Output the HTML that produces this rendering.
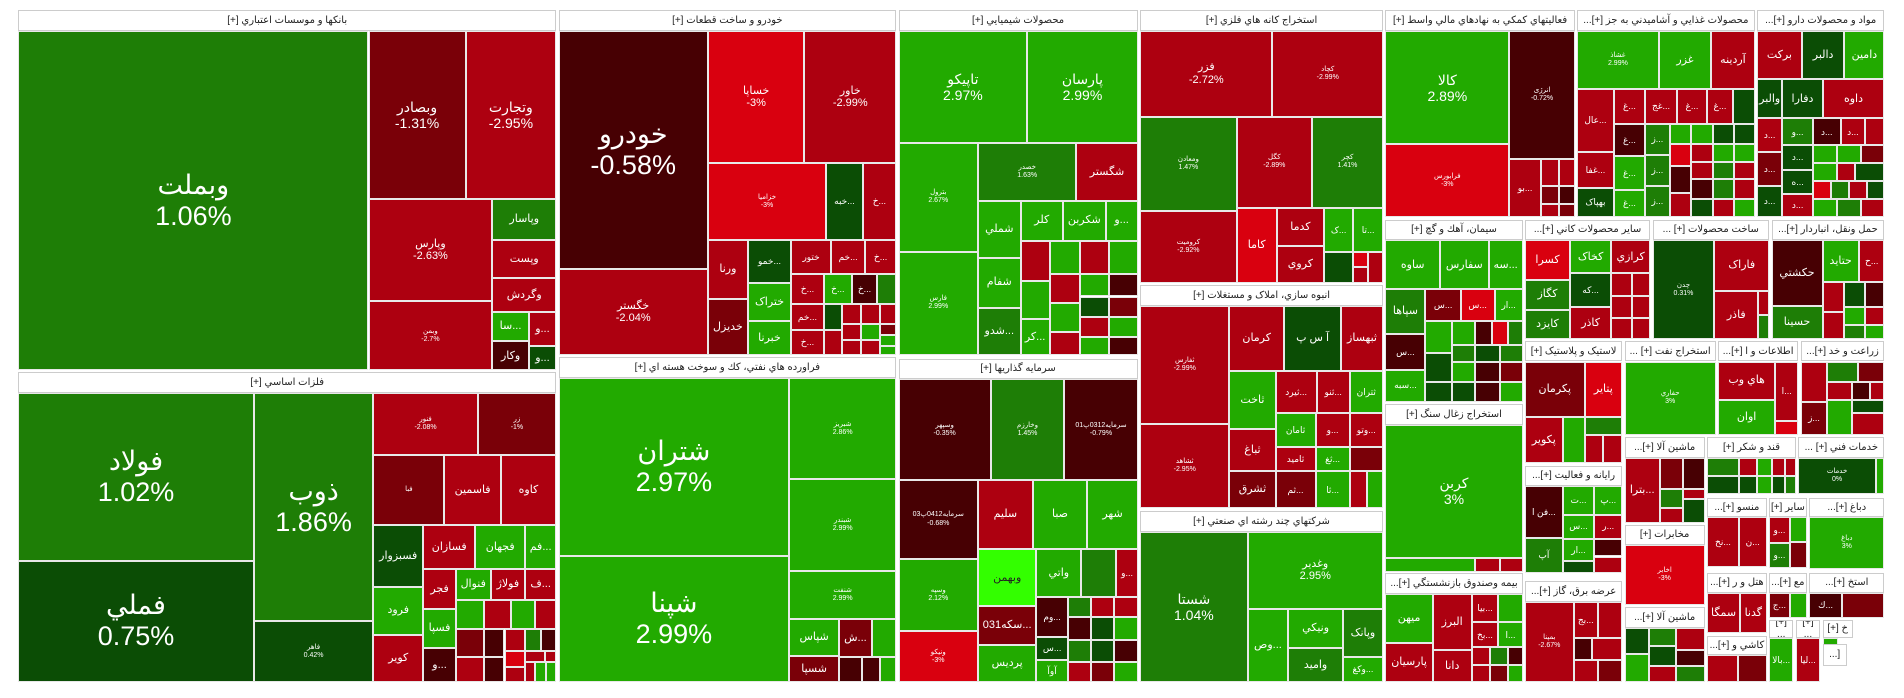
<!DOCTYPE html>
<html><head><meta charset="utf-8">
<style>
html,body{margin:0;padding:0;background:#fff;width:1904px;height:698px;overflow:hidden}
#w{position:relative;width:1904px;height:698px;font-family:"Liberation Sans","DejaVu Sans",sans-serif}
.b{position:absolute;box-sizing:border-box;border:1px solid #e8e8e8;display:flex;align-items:center;justify-content:center;text-align:center;color:#fff;overflow:hidden;line-height:1.15;
left:calc(var(--x)*0.6071px);top:calc(var(--y)*0.4452px);width:calc(var(--w)*0.6071px);height:calc(var(--h)*0.4452px);font-size:9px;direction:ltr}
.h{background:#fff;color:#222;font-size:10px;border:1px solid #ccc;direction:rtl}
.G{background:#1e7e06}.B{background:#22aa00}.D{background:#0b4d05}.M{background:#470003}.R{background:#ad0010}.K{background:#7a0008}.E{background:#d9000f}.N{background:#33ff00}
.f1{font-size:27px}.f2{font-size:14px}.f3{font-size:11px}.f4{font-size:7px}
</style></head><body><div id="w">
<!-- Banks -->
<div class="b h" style="--x:30;--y:22;--w:886;--h:48">بانکها و موسسات اعتباري [+]</div>
<div class="b G f1" style="--x:30;--y:70;--w:577;--h:762">وبملت<br>1.06%</div>
<div class="b K f2" style="--x:607;--y:70;--w:160;--h:377">وبصادر<br>-1.31%</div>
<div class="b R f2" style="--x:767;--y:70;--w:149;--h:377">وتجارت<br>-2.95%</div>
<div class="b R f3" style="--x:607;--y:447;--w:204;--h:230">وپارس<br>-2.63%</div>
<div class="b R f4" style="--x:607;--y:677;--w:204;--h:155">وبمن<br>-2.7%</div>
<div class="b G f3" style="--x:811;--y:447;--w:105;--h:92">وپاسار</div>
<div class="b R f3" style="--x:811;--y:539;--w:105;--h:86">وپست</div>
<div class="b R f3" style="--x:811;--y:625;--w:105;--h:76">وگردش</div>
<div class="b B f3" style="--x:811;--y:701;--w:60;--h:66">سا...</div>
<div class="b R f3" style="--x:871;--y:701;--w:45;--h:76">و...</div>
<div class="b M f3" style="--x:811;--y:767;--w:60;--h:65">وکار</div>
<div class="b D f3" style="--x:871;--y:777;--w:45;--h:55">و...</div>
<!-- Khodro -->
<div class="b h" style="--x:920;--y:22;--w:556;--h:48">خودرو و ساخت قطعات [+]</div>
<div class="b M f1" style="--x:920;--y:70;--w:246;--h:535">خودرو<br>-0.58%</div>
<div class="b R f3" style="--x:920;--y:605;--w:246;--h:193">خگستر<br>-2.04%</div>
<div class="b E f3" style="--x:1166;--y:70;--w:159;--h:297">خساپا<br>-3%</div>
<div class="b R f3" style="--x:1325;--y:70;--w:151;--h:297">خاور<br>-2.99%</div>
<div class="b E f4" style="--x:1166;--y:367;--w:195;--h:172">خزامیا<br>-3%</div>
<div class="b D" style="--x:1361;--y:367;--w:60;--h:172">خبه...</div>
<div class="b R" style="--x:1421;--y:367;--w:55;--h:172">خ...</div>
<div class="b R f3" style="--x:1166;--y:539;--w:66;--h:132">ورنا</div>
<div class="b K f3" style="--x:1166;--y:671;--w:66;--h:127">خدیزل</div>
<div class="b D" style="--x:1232;--y:539;--w:71;--h:96">خمو...</div>
<div class="b B f3" style="--x:1232;--y:635;--w:71;--h:86">ختراک</div>
<div class="b B f3" style="--x:1232;--y:721;--w:71;--h:77">خبرنا</div>
<div class="b R" style="--x:1303;--y:539;--w:66;--h:76">ختور</div>
<div class="b R" style="--x:1369;--y:539;--w:56;--h:76">خم...</div>
<div class="b R" style="--x:1425;--y:539;--w:51;--h:76">خ...</div>
<div class="b R" style="--x:1303;--y:615;--w:54;--h:68">خ...</div>
<div class="b B" style="--x:1357;--y:615;--w:46;--h:68">خ...</div>
<div class="b M" style="--x:1403;--y:615;--w:42;--h:68">خ...</div>
<div class="b G" style="--x:1445;--y:615;--w:31;--h:68"></div>
<div class="b R" style="--x:1303;--y:683;--w:54;--h:58">خم...</div>
<div class="b D" style="--x:1357;--y:683;--w:30;--h:58"></div>
<div class="b R" style="--x:1387;--y:683;--w:32;--h:45"></div>
<div class="b R" style="--x:1419;--y:683;--w:30;--h:45"></div>
<div class="b R" style="--x:1449;--y:683;--w:27;--h:45"></div>
<div class="b R" style="--x:1303;--y:741;--w:54;--h:57">خ...</div>
<div class="b R" style="--x:1357;--y:741;--w:30;--h:57"></div>
<div class="b R" style="--x:1387;--y:728;--w:32;--h:35"></div>
<div class="b B" style="--x:1419;--y:728;--w:30;--h:35"></div>
<div class="b K" style="--x:1449;--y:728;--w:27;--h:25"></div>
<div class="b R" style="--x:1387;--y:763;--w:32;--h:35"></div>
<div class="b R" style="--x:1419;--y:763;--w:30;--h:35"></div>
<div class="b B" style="--x:1449;--y:753;--w:27;--h:25"></div>
<div class="b B" style="--x:1449;--y:778;--w:27;--h:20"></div>
<!-- Chem -->
<div class="b h" style="--x:1480;--y:22;--w:394;--h:48">محصولات شيميايي [+]</div>
<div class="b B f2" style="--x:1480;--y:70;--w:212;--h:251">تاپيکو<br>2.97%</div>
<div class="b B f2" style="--x:1692;--y:70;--w:182;--h:251">پارسان<br>2.99%</div>
<div class="b B f4" style="--x:1480;--y:321;--w:131;--h:244">بترول<br>2.67%</div>
<div class="b B f4" style="--x:1480;--y:565;--w:131;--h:233">فارس<br>2.99%</div>
<div class="b G f4" style="--x:1611;--y:321;--w:162;--h:130">خصدر<br>1.63%</div>
<div class="b R f3" style="--x:1773;--y:321;--w:101;--h:130">شگستر</div>
<div class="b B f3" style="--x:1611;--y:451;--w:70;--h:128">شملي</div>
<div class="b B f3" style="--x:1681;--y:451;--w:70;--h:90">کلر</div>
<div class="b B f3" style="--x:1751;--y:451;--w:70;--h:90">شکربن</div>
<div class="b B f3" style="--x:1821;--y:451;--w:53;--h:90">و...</div>
<div class="b B f3" style="--x:1611;--y:579;--w:70;--h:112">شفام</div>
<div class="b G f3" style="--x:1611;--y:691;--w:70;--h:107">شدو...</div>
<div class="b R" style="--x:1681;--y:541;--w:48;--h:91"></div>
<div class="b B" style="--x:1729;--y:541;--w:50;--h:75"></div>
<div class="b R" style="--x:1779;--y:541;--w:48;--h:75"></div>
<div class="b B" style="--x:1827;--y:541;--w:47;--h:75"></div>
<div class="b B" style="--x:1681;--y:632;--w:48;--h:85"></div>
<div class="b R" style="--x:1729;--y:616;--w:50;--h:65"></div>
<div class="b B" style="--x:1779;--y:616;--w:48;--h:50"></div>
<div class="b M" style="--x:1827;--y:616;--w:47;--h:50"></div>
<div class="b B f3" style="--x:1681;--y:717;--w:48;--h:81">کر...</div>
<div class="b B" style="--x:1729;--y:681;--w:50;--h:65"></div>
<div class="b D" style="--x:1779;--y:666;--w:48;--h:45"></div>
<div class="b K" style="--x:1827;--y:666;--w:47;--h:45"></div>
<div class="b R" style="--x:1729;--y:746;--w:50;--h:52"></div>
<div class="b R" style="--x:1779;--y:711;--w:48;--h:45"></div>
<div class="b B" style="--x:1827;--y:711;--w:47;--h:45"></div>
<div class="b B" style="--x:1779;--y:756;--w:48;--h:42"></div>
<div class="b M" style="--x:1827;--y:756;--w:47;--h:42"></div>
<!-- Kane -->
<div class="b h" style="--x:1878;--y:22;--w:400;--h:48">استخراج کانه هاي فلزي [+]</div>
<div class="b R f3" style="--x:1878;--y:70;--w:218;--h:193">فزر<br>-2.72%</div>
<div class="b R f4" style="--x:2096;--y:70;--w:182;--h:193">کچاد<br>-2.99%</div>
<div class="b G f4" style="--x:1878;--y:263;--w:159;--h:210">ومعادن<br>1.47%</div>
<div class="b R f4" style="--x:2037;--y:263;--w:124;--h:204">کگل<br>-2.89%</div>
<div class="b G f4" style="--x:2161;--y:263;--w:117;--h:204">کچر<br>1.41%</div>
<div class="b R f4" style="--x:1878;--y:473;--w:159;--h:162">کرومیت<br>-2.92%</div>
<div class="b E f3" style="--x:2037;--y:467;--w:66;--h:168">کاما</div>
<div class="b R f3" style="--x:2103;--y:467;--w:78;--h:86">کدما</div>
<div class="b R f3" style="--x:2103;--y:553;--w:78;--h:82">کروي</div>
<div class="b B" style="--x:2181;--y:467;--w:48;--h:98">ک...</div>
<div class="b B" style="--x:2229;--y:467;--w:49;--h:98">تا...</div>
<div class="b D" style="--x:2181;--y:565;--w:48;--h:70"></div>
<div class="b E" style="--x:2229;--y:565;--w:25;--h:35"></div>
<div class="b R" style="--x:2254;--y:565;--w:24;--h:70"></div>
<div class="b R" style="--x:2229;--y:600;--w:25;--h:35"></div>
<!-- Anbooh -->
<div class="b h" style="--x:1878;--y:640;--w:400;--h:48">انبوه سازي، املاک و مستغلات [+]</div>
<div class="b R f4" style="--x:1878;--y:688;--w:147;--h:264">ثفارس<br>-2.99%</div>
<div class="b R f4" style="--x:1878;--y:952;--w:147;--h:190">ثشاهد<br>-2.95%</div>
<div class="b R f3" style="--x:2025;--y:688;--w:90;--h:146">کرمان</div>
<div class="b D f3" style="--x:2115;--y:688;--w:94;--h:146">آ س پ</div>
<div class="b R f3" style="--x:2209;--y:688;--w:69;--h:146">ثبهساز</div>
<div class="b B f3" style="--x:2025;--y:834;--w:76;--h:130">ثاخت</div>
<div class="b R f3" style="--x:2025;--y:964;--w:76;--h:94">ثباغ</div>
<div class="b K f3" style="--x:2025;--y:1058;--w:76;--h:84">ثشرق</div>
<div class="b R" style="--x:2101;--y:834;--w:68;--h:94">ثيرد...</div>
<div class="b R" style="--x:2169;--y:834;--w:54;--h:94">ثنو...</div>
<div class="b B" style="--x:2223;--y:834;--w:55;--h:94">ثتران</div>
<div class="b B" style="--x:2101;--y:928;--w:66;--h:76">ثامان</div>
<div class="b R" style="--x:2167;--y:928;--w:56;--h:76">و...</div>
<div class="b R" style="--x:2223;--y:928;--w:55;--h:76">وتو...</div>
<div class="b R" style="--x:2101;--y:1004;--w:66;--h:54">ثاميد</div>
<div class="b B" style="--x:2167;--y:1004;--w:56;--h:54">ثغ...</div>
<div class="b K" style="--x:2223;--y:1004;--w:55;--h:54"></div>
<div class="b K" style="--x:2101;--y:1058;--w:66;--h:84">ثم...</div>
<div class="b B" style="--x:2167;--y:1058;--w:56;--h:84">ثا...</div>
<div class="b R" style="--x:2223;--y:1058;--w:28;--h:84"></div>
<div class="b B" style="--x:2251;--y:1058;--w:27;--h:84"></div>
<!-- Chand reshte -->
<div class="b h" style="--x:1878;--y:1148;--w:400;--h:46">شرکتهاي چند رشته اي صنعتي [+]</div>
<div class="b G f2" style="--x:1878;--y:1194;--w:177;--h:338">شستا<br>1.04%</div>
<div class="b B f3" style="--x:2055;--y:1194;--w:223;--h:174">وغدير<br>2.95%</div>
<div class="b B f3" style="--x:2055;--y:1368;--w:67;--h:164">وص...</div>
<div class="b B f3" style="--x:2122;--y:1368;--w:90;--h:88">ونيکي</div>
<div class="b G f3" style="--x:2122;--y:1456;--w:90;--h:76">واميد</div>
<div class="b G f3" style="--x:2212;--y:1368;--w:66;--h:108">وپانک</div>
<div class="b B" style="--x:2212;--y:1476;--w:66;--h:56">وکغ...</div>
<!-- Naft -->
<div class="b h" style="--x:920;--y:802;--w:556;--h:48">فراورده هاي نفتي، کك و سوخت هسته اي [+]</div>
<div class="b B f1" style="--x:920;--y:850;--w:380;--h:398">شتران<br>2.97%</div>
<div class="b B f1" style="--x:920;--y:1248;--w:380;--h:284">شپنا<br>2.99%</div>
<div class="b B f4" style="--x:1300;--y:850;--w:176;--h:226">شبريز<br>2.86%</div>
<div class="b B f4" style="--x:1300;--y:1076;--w:176;--h:206">شبندر<br>2.99%</div>
<div class="b B f4" style="--x:1300;--y:1282;--w:176;--h:108">شنفت<br>2.99%</div>
<div class="b B f3" style="--x:1300;--y:1390;--w:82;--h:84">شپاس</div>
<div class="b K f3" style="--x:1382;--y:1390;--w:54;--h:86">ش...</div>
<div class="b B" style="--x:1436;--y:1390;--w:40;--h:86"></div>
<div class="b K f3" style="--x:1300;--y:1474;--w:82;--h:58">شسپا</div>
<div class="b M" style="--x:1382;--y:1476;--w:38;--h:56"></div>
<div class="b M" style="--x:1420;--y:1476;--w:30;--h:56"></div>
<div class="b B" style="--x:1450;--y:1476;--w:26;--h:56"></div>
<!-- Felezat -->
<div class="b h" style="--x:30;--y:836;--w:886;--h:46">فلزات اساسي [+]</div>
<div class="b G f1" style="--x:30;--y:882;--w:388;--h:378">فولاد<br>1.02%</div>
<div class="b D f1" style="--x:30;--y:1260;--w:388;--h:272">فملي<br>0.75%</div>
<div class="b G f1" style="--x:418;--y:882;--w:197;--h:514">ذوب<br>1.86%</div>
<div class="b D f4" style="--x:418;--y:1396;--w:197;--h:136">فاهر<br>0.42%</div>
<div class="b R f4" style="--x:615;--y:882;--w:172;--h:141">فنور<br>-2.08%</div>
<div class="b K f4" style="--x:787;--y:882;--w:129;--h:141">زر<br>-1%</div>
<div class="b K f4" style="--x:615;--y:1023;--w:117;--h:157">فبا</div>
<div class="b R f3" style="--x:732;--y:1023;--w:93;--h:157">فاسمين</div>
<div class="b R f3" style="--x:825;--y:1023;--w:91;--h:157">کاوه</div>
<div class="b D f3" style="--x:615;--y:1180;--w:82;--h:138">فسبزوار</div>
<div class="b R f3" style="--x:697;--y:1180;--w:86;--h:98">فسازان</div>
<div class="b B f3" style="--x:783;--y:1180;--w:82;--h:98">فجهان</div>
<div class="b B f3" style="--x:865;--y:1180;--w:51;--h:98">فم...</div>
<div class="b B f3" style="--x:615;--y:1318;--w:82;--h:108">فرود</div>
<div class="b R f3" style="--x:697;--y:1278;--w:54;--h:90">فجر</div>
<div class="b B f3" style="--x:751;--y:1278;--w:57;--h:70">فنوال</div>
<div class="b R f3" style="--x:808;--y:1278;--w:57;--h:70">فولاژ</div>
<div class="b R f3" style="--x:865;--y:1278;--w:51;--h:70">ف...</div>
<div class="b R f3" style="--x:615;--y:1426;--w:82;--h:106">کوير</div>
<div class="b B f3" style="--x:697;--y:1368;--w:54;--h:88">فسپا</div>
<div class="b M f3" style="--x:697;--y:1456;--w:54;--h:76">و...</div>
<div class="b B" style="--x:751;--y:1348;--w:47;--h:64"></div>
<div class="b R" style="--x:798;--y:1348;--w:43;--h:64"></div>
<div class="b B" style="--x:841;--y:1348;--w:41;--h:64"></div>
<div class="b R" style="--x:882;--y:1348;--w:34;--h:64"></div>
<div class="b K" style="--x:751;--y:1412;--w:47;--h:64"></div>
<div class="b M" style="--x:798;--y:1412;--w:33;--h:64"></div>
<div class="b R" style="--x:831;--y:1412;--w:33;--h:50"></div>
<div class="b G" style="--x:864;--y:1412;--w:27;--h:50"></div>
<div class="b M" style="--x:891;--y:1412;--w:25;--h:50"></div>
<div class="b R" style="--x:751;--y:1476;--w:47;--h:56"></div>
<div class="b M" style="--x:798;--y:1476;--w:33;--h:56"></div>
<div class="b E" style="--x:831;--y:1462;--w:33;--h:36"></div>
<div class="b R" style="--x:864;--y:1462;--w:33;--h:25"></div>
<div class="b R" style="--x:897;--y:1462;--w:19;--h:25"></div>
<div class="b R" style="--x:831;--y:1498;--w:33;--h:34"></div>
<div class="b R" style="--x:864;--y:1487;--w:18;--h:45"></div>
<div class="b B" style="--x:882;--y:1487;--w:17;--h:45"></div>
<div class="b B" style="--x:899;--y:1487;--w:17;--h:45"></div>
<!-- Sarmaye -->
<div class="b h" style="--x:1480;--y:806;--w:394;--h:46">سرمايه گذاريها [+]</div>
<div class="b M f4" style="--x:1480;--y:852;--w:152;--h:226">وسپهر<br>-0.35%</div>
<div class="b G f4" style="--x:1632;--y:852;--w:121;--h:226">وخارزم<br>1.45%</div>
<div class="b M f4" style="--x:1753;--y:852;--w:121;--h:226">سرمایه0312پ01<br>-0.79%</div>
<div class="b M f4" style="--x:1480;--y:1078;--w:131;--h:178">سرمایه0412پ03<br>-0.68%</div>
<div class="b R f3" style="--x:1611;--y:1078;--w:90;--h:156">سليم</div>
<div class="b B f3" style="--x:1701;--y:1078;--w:90;--h:156">صبا</div>
<div class="b B f3" style="--x:1791;--y:1078;--w:83;--h:156">شهر</div>
<div class="b B f4" style="--x:1480;--y:1256;--w:131;--h:162">وسپه<br>2.12%</div>
<div class="b E f4" style="--x:1480;--y:1418;--w:131;--h:114">ونیکو<br>-3%</div>
<div class="b N" style="--x:1611;--y:1234;--w:96;--h:128;color:#222;font-size:11px">وبهمن</div>
<div class="b B f3" style="--x:1707;--y:1234;--w:74;--h:108">واتي</div>
<div class="b G" style="--x:1781;--y:1234;--w:58;--h:108"></div>
<div class="b R" style="--x:1839;--y:1234;--w:35;--h:108">و...</div>
<div class="b K f3" style="--x:1611;--y:1362;--w:96;--h:86">سکه031...</div>
<div class="b B f3" style="--x:1611;--y:1448;--w:96;--h:84">پرديس</div>
<div class="b M" style="--x:1707;--y:1342;--w:52;--h:88">وم...</div>
<div class="b D" style="--x:1707;--y:1430;--w:52;--h:52">س...</div>
<div class="b B" style="--x:1707;--y:1482;--w:52;--h:50">آوآ</div>
<div class="b G" style="--x:1759;--y:1342;--w:38;--h:45"></div>
<div class="b R" style="--x:1797;--y:1342;--w:38;--h:45"></div>
<div class="b R" style="--x:1835;--y:1342;--w:39;--h:45"></div>
<div class="b M" style="--x:1759;--y:1387;--w:38;--h:50"></div>
<div class="b D" style="--x:1797;--y:1387;--w:38;--h:50"></div>
<div class="b B" style="--x:1835;--y:1387;--w:39;--h:50"></div>
<div class="b G" style="--x:1759;--y:1437;--w:38;--h:50"></div>
<div class="b D" style="--x:1797;--y:1437;--w:38;--h:50"></div>
<div class="b M" style="--x:1835;--y:1437;--w:39;--h:50"></div>
<div class="b R" style="--x:1759;--y:1487;--w:38;--h:45"></div>
<div class="b K" style="--x:1797;--y:1487;--w:38;--h:45"></div>
<div class="b B" style="--x:1835;--y:1487;--w:39;--h:45"></div>
<!-- Komaki -->
<div class="b h" style="--x:2282;--y:22;--w:312;--h:48">فعاليتهاي کمکي به نهادهاي مالي واسط [+]</div>
<div class="b B f2" style="--x:2282;--y:70;--w:204;--h:254">کالا<br>2.89%</div>
<div class="b M f4" style="--x:2486;--y:70;--w:108;--h:288">انرژی<br>-0.72%</div>
<div class="b E f4" style="--x:2282;--y:324;--w:204;--h:164">فرابورس<br>-3%</div>
<div class="b R" style="--x:2486;--y:358;--w:52;--h:130">بو...</div>
<div class="b R" style="--x:2538;--y:358;--w:30;--h:60"></div>
<div class="b R" style="--x:2568;--y:358;--w:26;--h:60"></div>
<div class="b K" style="--x:2538;--y:418;--w:30;--h:40"></div>
<div class="b M" style="--x:2568;--y:418;--w:26;--h:40"></div>
<div class="b R" style="--x:2538;--y:458;--w:30;--h:30"></div>
<div class="b K" style="--x:2568;--y:458;--w:26;--h:30"></div>
<!-- Ghazaei -->
<div class="b h" style="--x:2598;--y:22;--w:292;--h:48">محصولات غذايي و آشاميدني به جز [+]...</div>
<div class="b B f4" style="--x:2598;--y:70;--w:134;--h:130">غشاذ<br>2.99%</div>
<div class="b B f3" style="--x:2732;--y:70;--w:87;--h:130">غزر</div>
<div class="b R f3" style="--x:2819;--y:70;--w:71;--h:130">آردينه</div>
<div class="b R" style="--x:2598;--y:200;--w:60;--h:142">عال...</div>
<div class="b R" style="--x:2598;--y:342;--w:60;--h:80">غفا...</div>
<div class="b D" style="--x:2598;--y:422;--w:60;--h:66">بهپاک</div>
<div class="b R" style="--x:2658;--y:200;--w:52;--h:78">غ...</div>
<div class="b M" style="--x:2658;--y:278;--w:52;--h:72">غ...</div>
<div class="b B" style="--x:2658;--y:350;--w:52;--h:76">غ...</div>
<div class="b B" style="--x:2658;--y:426;--w:52;--h:62">غ...</div>
<div class="b R" style="--x:2710;--y:200;--w:52;--h:78">غج...</div>
<div class="b R" style="--x:2762;--y:200;--w:50;--h:78">غ...</div>
<div class="b R" style="--x:2812;--y:200;--w:42;--h:78">غ...</div>
<div class="b D" style="--x:2854;--y:200;--w:36;--h:78"></div>
<div class="b G" style="--x:2710;--y:278;--w:40;--h:70">ز...</div>
<div class="b B" style="--x:2750;--y:278;--w:36;--h:45"></div>
<div class="b B" style="--x:2786;--y:278;--w:36;--h:45"></div>
<div class="b D" style="--x:2822;--y:278;--w:34;--h:45"></div>
<div class="b D" style="--x:2856;--y:278;--w:34;--h:45"></div>
<div class="b G" style="--x:2710;--y:348;--w:40;--h:70">ز...</div>
<div class="b G" style="--x:2710;--y:418;--w:40;--h:70">ز...</div>
<div class="b E" style="--x:2750;--y:323;--w:36;--h:50"></div>
<div class="b R" style="--x:2786;--y:323;--w:36;--h:40"></div>
<div class="b B" style="--x:2822;--y:323;--w:34;--h:40"></div>
<div class="b B" style="--x:2856;--y:323;--w:34;--h:40"></div>
<div class="b M" style="--x:2750;--y:373;--w:36;--h:60"></div>
<div class="b R" style="--x:2786;--y:363;--w:36;--h:40"></div>
<div class="b G" style="--x:2822;--y:363;--w:34;--h:40"></div>
<div class="b R" style="--x:2856;--y:363;--w:34;--h:40"></div>
<div class="b R" style="--x:2750;--y:433;--w:36;--h:55"></div>
<div class="b M" style="--x:2786;--y:403;--w:36;--h:45"></div>
<div class="b G" style="--x:2822;--y:403;--w:34;--h:45"></div>
<div class="b R" style="--x:2856;--y:403;--w:34;--h:45"></div>
<div class="b D" style="--x:2786;--y:448;--w:36;--h:40"></div>
<div class="b R" style="--x:2822;--y:448;--w:34;--h:40"></div>
<div class="b B" style="--x:2856;--y:448;--w:34;--h:40"></div>
<!-- Daru -->
<div class="b h" style="--x:2894;--y:22;--w:210;--h:48">مواد و محصولات دارو [+]...</div>
<div class="b R f3" style="--x:2894;--y:70;--w:74;--h:108">برکت</div>
<div class="b D f3" style="--x:2968;--y:70;--w:70;--h:108">دالبر</div>
<div class="b B f3" style="--x:3038;--y:70;--w:66;--h:108">دامين</div>
<div class="b D f3" style="--x:2894;--y:178;--w:42;--h:88">والبر</div>
<div class="b D f3" style="--x:2936;--y:178;--w:66;--h:88">دفارا</div>
<div class="b R f3" style="--x:3002;--y:178;--w:102;--h:88">داوه</div>
<div class="b R" style="--x:2894;--y:266;--w:42;--h:76">د...</div>
<div class="b K" style="--x:2894;--y:342;--w:42;--h:76">د...</div>
<div class="b D" style="--x:2894;--y:418;--w:42;--h:70">د...</div>
<div class="b G" style="--x:2936;--y:266;--w:50;--h:60">و...</div>
<div class="b M" style="--x:2986;--y:266;--w:46;--h:60">د...</div>
<div class="b R" style="--x:3032;--y:266;--w:40;--h:60">د...</div>
<div class="b R" style="--x:3072;--y:266;--w:32;--h:60"></div>
<div class="b D" style="--x:2936;--y:326;--w:50;--h:55">د...</div>
<div class="b B" style="--x:2986;--y:326;--w:40;--h:40"></div>
<div class="b B" style="--x:3026;--y:326;--w:40;--h:40"></div>
<div class="b K" style="--x:3066;--y:326;--w:38;--h:40"></div>
<div class="b D" style="--x:2936;--y:381;--w:50;--h:55">ه...</div>
<div class="b B" style="--x:2986;--y:366;--w:40;--h:40"></div>
<div class="b R" style="--x:3026;--y:366;--w:30;--h:40"></div>
<div class="b D" style="--x:3056;--y:366;--w:48;--h:40"></div>
<div class="b R" style="--x:2936;--y:436;--w:50;--h:52">د...</div>
<div class="b E" style="--x:2986;--y:406;--w:30;--h:42"></div>
<div class="b G" style="--x:3016;--y:406;--w:30;--h:42"></div>
<div class="b R" style="--x:3046;--y:406;--w:30;--h:42"></div>
<div class="b D" style="--x:3076;--y:406;--w:28;--h:42"></div>
<div class="b B" style="--x:2986;--y:448;--w:40;--h:40"></div>
<div class="b G" style="--x:3026;--y:448;--w:40;--h:40"></div>
<div class="b R" style="--x:3066;--y:448;--w:38;--h:40"></div>
<!-- Siman -->
<div class="b h" style="--x:2282;--y:494;--w:226;--h:46">سيمان، آهك و گچ [+]</div>
<div class="b B f3" style="--x:2282;--y:540;--w:90;--h:110">ساوه</div>
<div class="b B f3" style="--x:2372;--y:540;--w:80;--h:110">سفارس</div>
<div class="b B f3" style="--x:2452;--y:540;--w:56;--h:110">سه...</div>
<div class="b G f3" style="--x:2282;--y:650;--w:66;--h:100">سپاها</div>
<div class="b K" style="--x:2348;--y:650;--w:58;--h:72">س...</div>
<div class="b E" style="--x:2406;--y:650;--w:56;--h:72">س...</div>
<div class="b B" style="--x:2462;--y:650;--w:46;--h:72">ار...</div>
<div class="b M" style="--x:2282;--y:750;--w:66;--h:80">س...</div>
<div class="b B" style="--x:2282;--y:830;--w:66;--h:72">سبه...</div>
<div class="b B" style="--x:2348;--y:722;--w:44;--h:72"></div>
<div class="b B" style="--x:2392;--y:722;--w:38;--h:52"></div>
<div class="b M" style="--x:2430;--y:722;--w:28;--h:52"></div>
<div class="b E" style="--x:2458;--y:722;--w:26;--h:52"></div>
<div class="b G" style="--x:2484;--y:722;--w:24;--h:52"></div>
<div class="b D" style="--x:2348;--y:794;--w:44;--h:64"></div>
<div class="b G" style="--x:2392;--y:774;--w:38;--h:40"></div>
<div class="b D" style="--x:2430;--y:774;--w:40;--h:40"></div>
<div class="b G" style="--x:2470;--y:774;--w:38;--h:40"></div>
<div class="b B" style="--x:2392;--y:814;--w:38;--h:44"></div>
<div class="b M" style="--x:2430;--y:814;--w:40;--h:44"></div>
<div class="b K" style="--x:2470;--y:814;--w:38;--h:44"></div>
<div class="b D" style="--x:2348;--y:858;--w:44;--h:44"></div>
<div class="b D" style="--x:2392;--y:858;--w:38;--h:44"></div>
<div class="b M" style="--x:2430;--y:858;--w:40;--h:44"></div>
<div class="b B" style="--x:2470;--y:858;--w:38;--h:44"></div>
<!-- Zoghal -->
<div class="b h" style="--x:2282;--y:908;--w:226;--h:46">استخراج زغال سنگ [+]</div>
<div class="b B f2" style="--x:2282;--y:954;--w:226;--h:300">کربن<br>3%</div>
<div class="b B" style="--x:2282;--y:1254;--w:148;--h:30"></div>
<div class="b R" style="--x:2430;--y:1254;--w:40;--h:30"></div>
<div class="b R" style="--x:2470;--y:1254;--w:38;--h:30"></div>
<!-- Bime -->
<div class="b h" style="--x:2282;--y:1288;--w:226;--h:46">بيمه وصندوق بازنشستگي [+]...</div>
<div class="b B f3" style="--x:2282;--y:1334;--w:78;--h:110">ميهن</div>
<div class="b R f3" style="--x:2282;--y:1444;--w:78;--h:88">پارسيان</div>
<div class="b R f3" style="--x:2360;--y:1334;--w:64;--h:126">البرز</div>
<div class="b R f3" style="--x:2360;--y:1460;--w:64;--h:72">دانا</div>
<div class="b R" style="--x:2424;--y:1334;--w:44;--h:64">بيا...</div>
<div class="b B" style="--x:2468;--y:1334;--w:40;--h:64"></div>
<div class="b R" style="--x:2424;--y:1398;--w:44;--h:56">بخ...</div>
<div class="b B" style="--x:2468;--y:1398;--w:40;--h:56">ا...</div>
<div class="b R" style="--x:2424;--y:1454;--w:30;--h:40"></div>
<div class="b G" style="--x:2454;--y:1454;--w:30;--h:40"></div>
<div class="b M" style="--x:2484;--y:1454;--w:24;--h:40"></div>
<div class="b R" style="--x:2424;--y:1494;--w:30;--h:38"></div>
<div class="b K" style="--x:2454;--y:1494;--w:30;--h:38"></div>
<div class="b B" style="--x:2484;--y:1494;--w:24;--h:38"></div>
<!-- Kani -->
<div class="b h" style="--x:2512;--y:494;--w:206;--h:46">ساير محصولات کاني [+]...</div>
<div class="b E f3" style="--x:2512;--y:540;--w:74;--h:88">کسرا</div>
<div class="b B f3" style="--x:2586;--y:540;--w:68;--h:74">کخاک</div>
<div class="b R f3" style="--x:2654;--y:540;--w:64;--h:74">کرازي</div>
<div class="b G f3" style="--x:2512;--y:628;--w:74;--h:68">کگاز</div>
<div class="b G f3" style="--x:2512;--y:696;--w:74;--h:66">کايزد</div>
<div class="b D" style="--x:2586;--y:614;--w:68;--h:76">که...</div>
<div class="b R f3" style="--x:2586;--y:690;--w:68;--h:72">کاذر</div>
<div class="b R" style="--x:2654;--y:614;--w:34;--h:50"></div>
<div class="b R" style="--x:2688;--y:614;--w:30;--h:50"></div>
<div class="b R" style="--x:2654;--y:664;--w:34;--h:50"></div>
<div class="b R" style="--x:2688;--y:664;--w:30;--h:50"></div>
<div class="b R" style="--x:2654;--y:714;--w:34;--h:48"></div>
<div class="b R" style="--x:2688;--y:714;--w:30;--h:48"></div>
<!-- Sakht -->
<div class="b h" style="--x:2722;--y:494;--w:192;--h:46">ساخت محصولات [+] ...</div>
<div class="b D f4" style="--x:2722;--y:540;--w:102;--h:222">چدن<br>0.31%</div>
<div class="b R f3" style="--x:2824;--y:540;--w:90;--h:114">فاراک</div>
<div class="b R f3" style="--x:2824;--y:654;--w:72;--h:108">فاذر</div>
<div class="b R" style="--x:2896;--y:654;--w:18;--h:54"></div>
<div class="b G" style="--x:2896;--y:708;--w:18;--h:54"></div>
<!-- Haml -->
<div class="b h" style="--x:2918;--y:494;--w:186;--h:46">حمل ونقل، انباردار [+]...</div>
<div class="b M f3" style="--x:2918;--y:540;--w:84;--h:148">حکشتي</div>
<div class="b G f3" style="--x:2918;--y:688;--w:84;--h:74">حسينا</div>
<div class="b B f3" style="--x:3002;--y:540;--w:60;--h:94">حتايد</div>
<div class="b R" style="--x:3062;--y:540;--w:42;--h:94">ح...</div>
<div class="b R" style="--x:3002;--y:634;--w:36;--h:66"></div>
<div class="b D" style="--x:3038;--y:634;--w:34;--h:56"></div>
<div class="b M" style="--x:3072;--y:634;--w:32;--h:56"></div>
<div class="b R" style="--x:3002;--y:700;--w:36;--h:62"></div>
<div class="b B" style="--x:3038;--y:690;--w:34;--h:40"></div>
<div class="b R" style="--x:3072;--y:690;--w:32;--h:40"></div>
<div class="b G" style="--x:3038;--y:730;--w:34;--h:32"></div>
<div class="b B" style="--x:3072;--y:730;--w:32;--h:32"></div>
<!-- Row 766 -->
<div class="b h" style="--x:2512;--y:766;--w:160;--h:46">لاستيک و پلاستيک [+]</div>
<div class="b K f3" style="--x:2512;--y:812;--w:98;--h:124">پکرمان</div>
<div class="b E f3" style="--x:2610;--y:812;--w:62;--h:124">پتاير</div>
<div class="b R f3" style="--x:2512;--y:936;--w:62;--h:104">پکوير</div>
<div class="b B" style="--x:2574;--y:936;--w:36;--h:104"></div>
<div class="b G" style="--x:2610;--y:936;--w:62;--h:40"></div>
<div class="b R" style="--x:2610;--y:976;--w:30;--h:64"></div>
<div class="b R" style="--x:2640;--y:976;--w:32;--h:64"></div>
<div class="b h" style="--x:2676;--y:766;--w:150;--h:46">استخراج نفت [+] ...</div>
<div class="b B f4" style="--x:2676;--y:812;--w:150;--h:166">حفاري<br>3%</div>
<div class="b h" style="--x:2830;--y:766;--w:132;--h:46">اطلاعات و ا [+]...</div>
<div class="b R f3" style="--x:2830;--y:812;--w:94;--h:86">هاي وب</div>
<div class="b B f3" style="--x:2830;--y:898;--w:94;--h:80">اوان</div>
<div class="b R" style="--x:2924;--y:812;--w:38;--h:134">ا...</div>
<div class="b E" style="--x:2924;--y:946;--w:38;--h:32"></div>
<div class="b h" style="--x:2966;--y:766;--w:138;--h:46">زراعت و خد [+]...</div>
<div class="b R" style="--x:2966;--y:812;--w:44;--h:90"></div>
<div class="b G" style="--x:3010;--y:812;--w:50;--h:46"></div>
<div class="b K" style="--x:3060;--y:812;--w:44;--h:46"></div>
<div class="b R" style="--x:3010;--y:858;--w:40;--h:40"></div>
<div class="b M" style="--x:3050;--y:858;--w:30;--h:40"></div>
<div class="b R" style="--x:3080;--y:858;--w:24;--h:40"></div>
<div class="b K" style="--x:2966;--y:902;--w:44;--h:76">ز...</div>
<div class="b B" style="--x:3010;--y:898;--w:40;--h:80"></div>
<div class="b D" style="--x:3050;--y:898;--w:54;--h:30"></div>
<div class="b R" style="--x:3050;--y:928;--w:54;--h:50"></div>
<!-- Row 982 -->
<div class="b h" style="--x:2676;--y:982;--w:132;--h:46">ماشين آلا [+]...</div>
<div class="b R f3" style="--x:2676;--y:1028;--w:58;--h:146">بترا...</div>
<div class="b K" style="--x:2734;--y:1028;--w:38;--h:70"></div>
<div class="b M" style="--x:2772;--y:1028;--w:36;--h:70"></div>
<div class="b G" style="--x:2734;--y:1098;--w:38;--h:44"></div>
<div class="b R" style="--x:2772;--y:1098;--w:36;--h:22"></div>
<div class="b R" style="--x:2734;--y:1142;--w:38;--h:32"></div>
<div class="b D" style="--x:2772;--y:1120;--w:36;--h:54"></div>
<div class="b h" style="--x:2812;--y:982;--w:146;--h:46">قند و شکر [+]</div>
<div class="b G" style="--x:2812;--y:1028;--w:52;--h:42"></div>
<div class="b R" style="--x:2864;--y:1028;--w:30;--h:42"></div>
<div class="b B" style="--x:2894;--y:1028;--w:24;--h:42"></div>
<div class="b R" style="--x:2918;--y:1028;--w:22;--h:42"></div>
<div class="b R" style="--x:2940;--y:1028;--w:18;--h:42"></div>
<div class="b D" style="--x:2812;--y:1070;--w:52;--h:40"></div>
<div class="b D" style="--x:2864;--y:1070;--w:30;--h:40"></div>
<div class="b B" style="--x:2894;--y:1070;--w:24;--h:40"></div>
<div class="b D" style="--x:2918;--y:1070;--w:22;--h:40"></div>
<div class="b G" style="--x:2940;--y:1070;--w:18;--h:40"></div>
<div class="b h" style="--x:2962;--y:982;--w:142;--h:46">خدمات فني [+] ...</div>
<div class="b D f4" style="--x:2962;--y:1028;--w:128;--h:82">خدمات<br>0%</div>
<div class="b B" style="--x:3090;--y:1028;--w:14;--h:82"></div>
<!-- Rayane -->
<div class="b h" style="--x:2512;--y:1046;--w:160;--h:46">رايانه و فعاليت [+]...</div>
<div class="b M" style="--x:2512;--y:1092;--w:62;--h:116">فن ا...</div>
<div class="b B" style="--x:2574;--y:1092;--w:52;--h:64">ت...</div>
<div class="b B" style="--x:2626;--y:1092;--w:46;--h:64">پ...</div>
<div class="b B" style="--x:2574;--y:1156;--w:52;--h:54">س...</div>
<div class="b R" style="--x:2626;--y:1156;--w:46;--h:54">ر...</div>
<div class="b G" style="--x:2512;--y:1208;--w:62;--h:80">آپ</div>
<div class="b B" style="--x:2574;--y:1210;--w:52;--h:50">ار...</div>
<div class="b M" style="--x:2626;--y:1210;--w:46;--h:40"></div>
<div class="b D" style="--x:2574;--y:1260;--w:52;--h:28"></div>
<div class="b R" style="--x:2626;--y:1250;--w:46;--h:38"></div>
<!-- Mokhaberat -->
<div class="b h" style="--x:2676;--y:1180;--w:132;--h:44">مخابرات [+]</div>
<div class="b E f4" style="--x:2676;--y:1224;--w:132;--h:136">اخابر<br>-3%</div>
<!-- Row 1118 -->
<div class="b h" style="--x:2812;--y:1118;--w:98;--h:44">منسو [+]...</div>
<div class="b R" style="--x:2812;--y:1162;--w:52;--h:112">نخ...</div>
<div class="b R" style="--x:2864;--y:1162;--w:46;--h:112">ن...</div>
<div class="b h" style="--x:2914;--y:1118;--w:62;--h:44">ساير [+]</div>
<div class="b R" style="--x:2914;--y:1162;--w:34;--h:58">و...</div>
<div class="b G" style="--x:2914;--y:1220;--w:34;--h:56">و...</div>
<div class="b B" style="--x:2948;--y:1162;--w:28;--h:56"></div>
<div class="b K" style="--x:2948;--y:1218;--w:28;--h:58"></div>
<div class="b h" style="--x:2980;--y:1118;--w:124;--h:44">دباغ [+]...</div>
<div class="b B f4" style="--x:2980;--y:1162;--w:124;--h:116">دباغ<br>3%</div>
<!-- Bargh -->
<div class="b h" style="--x:2512;--y:1306;--w:160;--h:46">عرضه برق، گاز [+]...</div>
<div class="b R f4" style="--x:2512;--y:1352;--w:80;--h:180">بمپنا<br>-2.67%</div>
<div class="b R" style="--x:2592;--y:1352;--w:40;--h:80">بج...</div>
<div class="b R" style="--x:2632;--y:1352;--w:40;--h:80"></div>
<div class="b M" style="--x:2592;--y:1432;--w:30;--h:50"></div>
<div class="b R" style="--x:2622;--y:1432;--w:50;--h:50"></div>
<div class="b R" style="--x:2592;--y:1482;--w:40;--h:50"></div>
<div class="b K" style="--x:2632;--y:1482;--w:40;--h:50"></div>
<!-- Mashin 2 -->
<div class="b h" style="--x:2676;--y:1364;--w:132;--h:46">ماشين آلا [+]...</div>
<div class="b D" style="--x:2676;--y:1410;--w:40;--h:60"></div>
<div class="b G" style="--x:2716;--y:1410;--w:44;--h:40"></div>
<div class="b R" style="--x:2760;--y:1410;--w:48;--h:50"></div>
<div class="b B" style="--x:2676;--y:1470;--w:40;--h:62"></div>
<div class="b D" style="--x:2716;--y:1450;--w:44;--h:45"></div>
<div class="b M" style="--x:2760;--y:1460;--w:48;--h:35"></div>
<div class="b R" style="--x:2716;--y:1495;--w:44;--h:37"></div>
<div class="b G" style="--x:2760;--y:1495;--w:48;--h:37"></div>
<!-- Row 1288 -->
<div class="b h" style="--x:2812;--y:1288;--w:98;--h:44">هتل و ر [+]...</div>
<div class="b R f3" style="--x:2812;--y:1332;--w:54;--h:90">سمگا</div>
<div class="b R f3" style="--x:2866;--y:1332;--w:44;--h:90">گدنا</div>
<div class="b h" style="--x:2914;--y:1288;--w:62;--h:44">مع [+]...</div>
<div class="b K" style="--x:2914;--y:1332;--w:34;--h:56">ج...</div>
<div class="b B" style="--x:2948;--y:1332;--w:28;--h:56"></div>
<div class="b h" style="--x:2980;--y:1288;--w:124;--h:44">استخ [+]...</div>
<div class="b M" style="--x:2980;--y:1332;--w:54;--h:56">ك...</div>
<div class="b K" style="--x:3034;--y:1332;--w:70;--h:56"></div>
<div class="b h" style="--x:2812;--y:1428;--w:98;--h:44">کاشي و [+]...</div>
<div class="b R" style="--x:2812;--y:1472;--w:50;--h:60"></div>
<div class="b K" style="--x:2862;--y:1472;--w:48;--h:60"></div>
<div class="b h" style="--x:2914;--y:1392;--w:40;--h:40">[+] ...</div>
<div class="b B" style="--x:2914;--y:1432;--w:40;--h:100">بالا...</div>
<div class="b h" style="--x:2958;--y:1392;--w:40;--h:40">[+] ...</div>
<div class="b R" style="--x:2958;--y:1432;--w:40;--h:100">ليا...</div>
<div class="b h" style="--x:3002;--y:1392;--w:50;--h:40">خ [+]</div>
<div class="b B" style="--x:3002;--y:1432;--w:26;--h:30"></div>
<div class="b h" style="--x:3002;--y:1446;--w:40;--h:50">[...</div>
</div></body></html>
